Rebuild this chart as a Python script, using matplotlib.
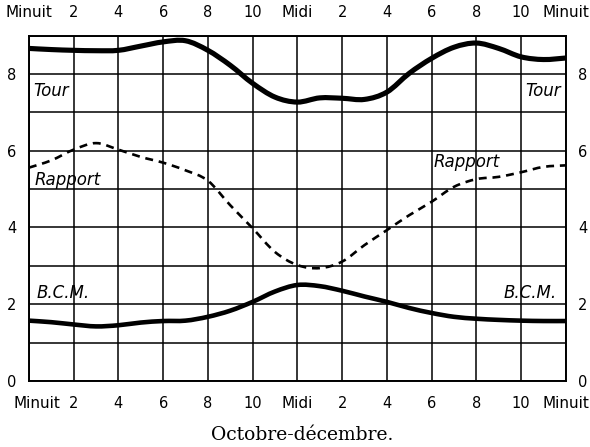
import matplotlib
matplotlib.use("Agg")
import matplotlib.pyplot as plt
import numpy as np
from matplotlib.path import Path
from matplotlib.patches import PathPatch
from matplotlib.ticker import FixedLocator, FixedFormatter
from matplotlib.transforms import ScaledTranslation

# Hours of the day (Minuit -> Minuit)
hours = list(range(25))

# Hourly values of the three series
tour = [8.67, 8.64, 8.62, 8.61, 8.62, 8.73, 8.84, 8.87, 8.62, 8.23, 7.76, 7.40, 7.27,
        7.38, 7.37, 7.34, 7.53, 8.02, 8.41, 8.70, 8.81, 8.67, 8.45, 8.38, 8.42]
rapport = [5.56, 5.75, 6.03, 6.20, 6.03, 5.84, 5.69, 5.49, 5.22, 4.58, 3.98, 3.36, 3.02,
           2.94, 3.11, 3.54, 3.93, 4.32, 4.67, 5.06, 5.26, 5.32, 5.44, 5.58, 5.62]
bcm = [1.57, 1.53, 1.47, 1.42, 1.45, 1.52, 1.56, 1.57, 1.67, 1.83, 2.06, 2.33, 2.50,
       2.47, 2.35, 2.20, 2.06, 1.90, 1.77, 1.67, 1.62, 1.59, 1.57, 1.56, 1.56]

x_ticks = list(range(0, 25, 2))
x_labels = ["Minuit", "2", "4", "6", "8", "10", "Midi", "2", "4", "6", "8", "10", "Minuit"]
y_ticks = list(range(0, 10))
y_labels = ["0", "", "2", "", "4", "", "6", "", "8", ""]

title = "Octobre-décembre."


def smooth_path(xs, ys):
    """Cubic Bezier path passing through every (x, y) point (Catmull-Rom tangents)."""
    p = np.column_stack([xs, ys]).astype(float)
    n = len(p)
    verts = [p[0]]
    codes = [Path.MOVETO]
    for i in range(n - 1):
        p0 = p[i - 1] if i > 0 else p[i]
        p3 = p[i + 2] if i + 2 < n else p[i + 1]
        c1 = p[i] + (p[i + 1] - p0) / 6.0
        c2 = p[i + 1] - (p3 - p[i]) / 6.0
        verts += [c1, c2, p[i + 1]]
        codes += [Path.CURVE4] * 3
    return Path(verts, codes)


fig = plt.figure(figsize=(5.9, 4.47), dpi=100)
ax = fig.add_axes([0.049, 0.148, 0.910, 0.772])

ax.add_patch(PathPatch(smooth_path(hours, tour), fill=False, ec="black", lw=3.7,
                       capstyle="butt", joinstyle="round", zorder=3))
ax.add_patch(PathPatch(smooth_path(hours, bcm), fill=False, ec="black", lw=3.3,
                       capstyle="butt", joinstyle="round", zorder=3))
ax.add_patch(PathPatch(smooth_path(hours, rapport), fill=False, ec="black", lw=1.9,
                       linestyle=(0, (3.0, 2.2)), capstyle="butt", zorder=3))

ax.set_xlim(0, 24)
ax.set_ylim(0, 9)
ax.xaxis.set_major_locator(FixedLocator(x_ticks))
ax.xaxis.set_major_formatter(FixedFormatter(x_labels))
ax.yaxis.set_major_locator(FixedLocator(y_ticks))
ax.yaxis.set_major_formatter(FixedFormatter(y_labels))
ax.grid(True, color="black", lw=1.1)
ax.set_axisbelow(True)
for s in ax.spines.values():
    s.set_linewidth(1.4)
    s.set_color("black")

ax.tick_params(axis="x", length=0, labeltop=True, labelbottom=True, labelsize=10.5, pad=11)
ax.tick_params(axis="y", length=0, labelleft=True, labelright=True, labelsize=10.5, pad=9)
for lab in ax.get_xticklabels():
    if lab.get_text() in ("Minuit", "Midi"):
        lab.set_fontsize(11)
# the bottom-left "Minuit" sits slightly to the right
first = ax.xaxis.get_major_ticks()[0].label1
first.set_transform(first.get_transform() + ScaledTranslation(0.08, 0, fig.dpi_scale_trans))

# Curve names
lab_kw = dict(fontsize=12, style="italic", color="black", va="center")
ax.text(0.2, 7.55, "Tour", ha="left", **lab_kw)
ax.text(23.8, 7.55, "Tour", ha="right", **lab_kw)
ax.text(0.25, 5.25, "Rapport", ha="left", **lab_kw)
ax.text(18.1, 5.7, "Rapport", ha="left", **lab_kw)
ax.text(0.35, 2.3, "B.C.M.", ha="left", **lab_kw)
ax.text(23.6, 2.28, "B.C.M.", ha="right", **lab_kw)

fig.text(0.512, 0.027, title, ha="center", va="center",
         fontsize=13.5, family="DejaVu Serif")

fig.savefig("out.png", dpi=100)
